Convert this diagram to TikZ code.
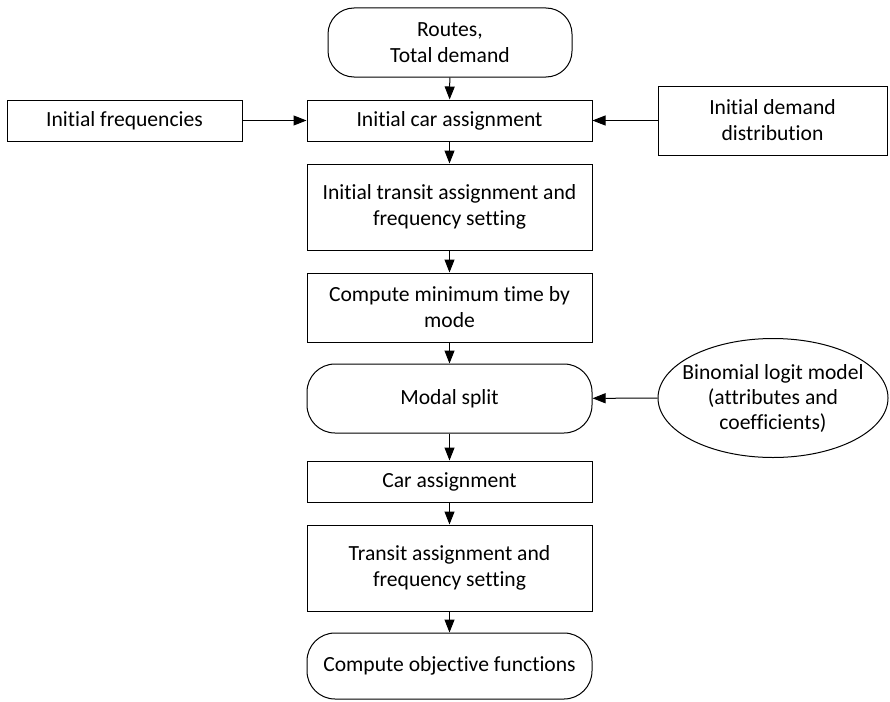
\documentclass[tikz,border=0pt]{standalone}
\usepackage{fontspec}
\setmainfont{Carlito}[Ligatures={NoCommon}]
\usetikzlibrary{arrows.meta,shapes.geometric}
\begin{document}
\begin{tikzpicture}[x=1pt,y=-1pt,
  every node/.style={font=\fontsize{21.6}{26}\selectfont, align=center, inner sep=0pt, line width=1pt},
  box/.style={draw, rectangle, minimum width=285pt},
  rbox/.style={draw, rectangle, rounded corners=28pt, minimum width=285pt},
  conn/.style={line width=1pt, -{Triangle[length=13pt,width=10pt]}}]
\useasboundingbox (0,0) rectangle (890,701);
\node[rbox, minimum width=244pt, minimum height=69pt, rounded corners=26pt] (top) at (450,42.5) {Routes,\\Total demand};
\node[box, minimum height=41pt] (icar) at (449.5,120.5) {Initial car assignment};
\node[box, minimum width=235pt, minimum height=41pt] (ifreq) at (124.5,120.5) {Initial frequencies};
\node[box, minimum width=229pt, minimum height=69pt] (idem) at (772.5,120.5) {Initial demand\\distribution};
\node[box, minimum height=86pt] (itran) at (449.5,207) {Initial transit assignment and\\frequency setting};
\node[box, minimum height=69pt] (cmin) at (449.5,307.5) {Compute minimum time by\\mode};
\node[rbox, minimum height=69pt] (modal) at (449.5,398.5) {Modal split};
\node[draw, ellipse, minimum width=230pt, minimum height=119pt,
  label={[align=center, font=\fontsize{21.6}{25}\selectfont]center:Binomial logit model\\(attributes and\\coefficients)}] (logit) at (773,398) {};
\node[box, minimum height=41pt] (car) at (449.5,481.5) {Car assignment};
\node[box, minimum height=86pt] (tran) at (449.5,568) {Transit assignment and\\frequency setting};
\node[rbox, minimum height=66pt] (obj) at (449.5,666) {Compute objective functions};
\draw[conn] (top) -- (icar);
\draw[conn] (ifreq) -- (icar);
\draw[conn] (idem) -- (icar);
\draw[conn] (icar) -- (itran);
\draw[conn] (itran) -- (cmin);
\draw[conn] (cmin) -- (modal);
\draw[conn] (logit) -- (modal);
\draw[conn] (modal) -- (car);
\draw[conn] (car) -- (tran);
\draw[conn] (tran) -- (obj);
\end{tikzpicture}
\end{document}
